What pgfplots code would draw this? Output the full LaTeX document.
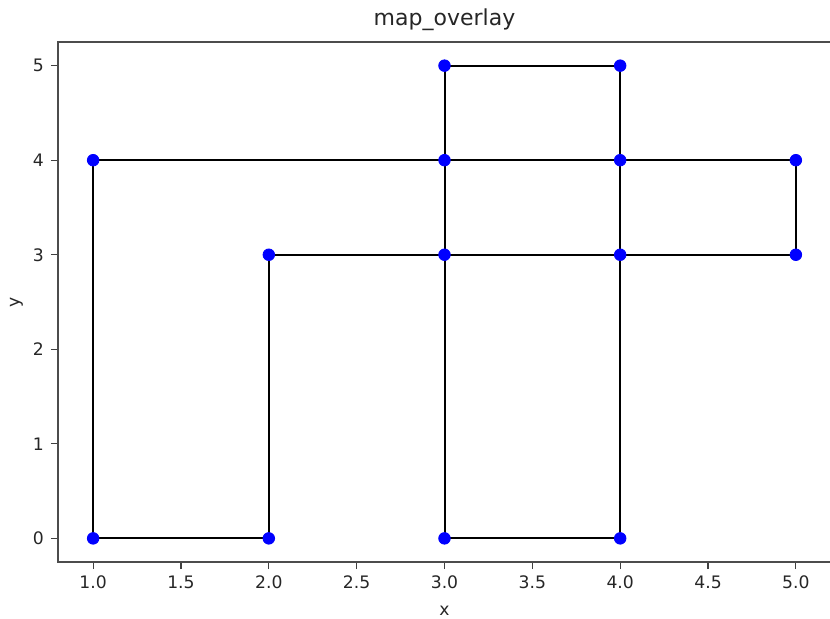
\documentclass[border=0pt]{standalone}
\usepackage{pgfplots}
\pgfplotsset{compat=1.18}
\usepackage{fontspec}
\setmainfont{DejaVu Sans}
\begin{document}
\begin{tikzpicture}
\begin{axis}[
  at={(0,0)}, anchor=south west,
  scale only axis,
  width=386.5pt, height=260pt,
  xmin=0.8, xmax=5.2, ymin=-0.25, ymax=5.25,
  xtick={1,1.5,2,2.5,3,3.5,4,4.5,5},
  xticklabels={1.0,1.5,2.0,2.5,3.0,3.5,4.0,4.5,5.0},
  ytick={0,1,2,3,4,5},
  tick align=outside,
  tick pos=left,
  major tick length=3.5pt,
  tick style={black!75, line width=0.6pt},
  axis line style={black!70, line width=0.8pt},
  ticklabel style={font=\fontsize{8.6}{10}\selectfont, text=black!85},
  /pgf/number format/assume math mode=true,
  xlabel={x}, ylabel={y},
  label style={font=\fontsize{8.6}{10}\selectfont, text=black!85},
  xlabel style={at={(axis description cs:0.5,0)}, anchor=north, yshift=-18.3pt},
  ylabel style={at={(axis description cs:0,0.5)}, anchor=south, yshift=14pt},
  title={map\_overlay},
  title style={font=\fontsize{11}{13}\selectfont, text=black!85, yshift=-4pt},
]
\addplot[black, line width=1pt] coordinates {
 (1,0) (2,0) (2,3) (3,3) (4,3) (5,3) (5,4) (4,4) (3,4) (1,4) (1,0)
};
\addplot[black, line width=1pt] coordinates {
 (3,0) (4,0) (4,3) (4,4) (4,5) (3,5) (3,4) (3,3) (3,0)
};
\addplot[only marks, mark=*, mark size=2.9pt, blue, mark options={draw=blue, fill=blue}] coordinates {
 (1,0) (2,0) (3,0) (4,0) (2,3) (3,3) (4,3) (5,3) (1,4) (3,4) (4,4) (5,4) (3,5) (4,5)
};
\end{axis}
\pgfresetboundingbox
\useasboundingbox (-29pt,-28pt) rectangle (386pt,281pt);
\end{tikzpicture}
\end{document}
